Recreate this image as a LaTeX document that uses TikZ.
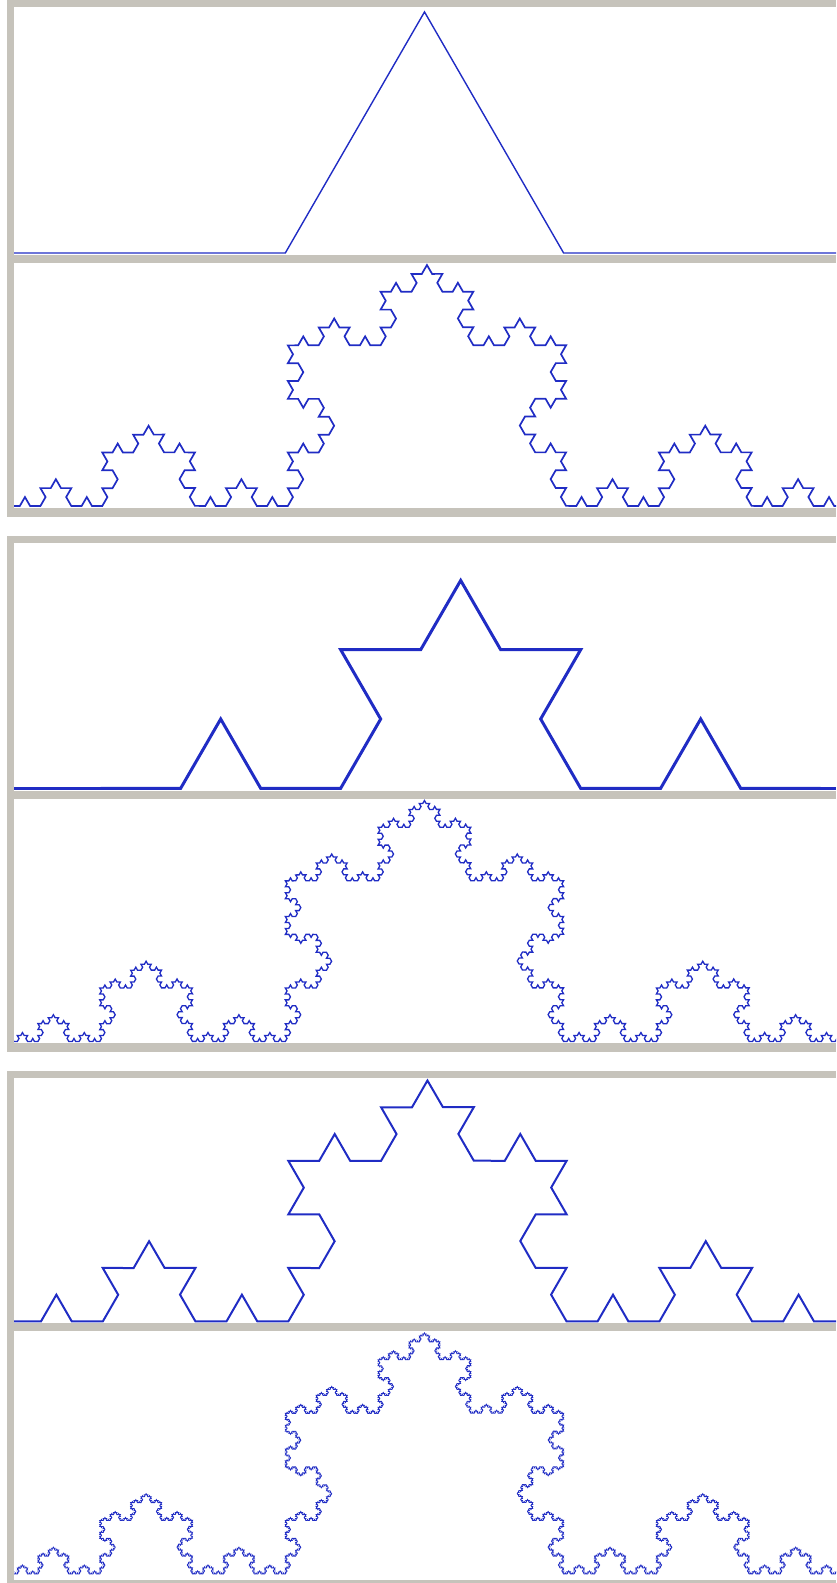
\documentclass[tikz,border=0pt]{standalone}
\usepackage{xcolor}
\usepackage{tikz}
\usetikzlibrary{decorations.fractals}

\definecolor{kochblue}{RGB}{32,44,196}
\definecolor{framegray}{RGB}{198,195,187}

\begin{document}
\begin{tikzpicture}[x=1pt,y=1pt,
    koch/.style={draw=kochblue,decoration={Koch snowflake}},
    frame/.style={fill=framegray}]
  \useasboundingbox (0,0) rectangle (836,1583);
  \begin{scope}
    \clip (14,0) rectangle (836,1583);
    % order 1
    \draw[koch,line width=1.4pt] decorate{(7,1330) -- ++(835,0)};
    % order 4
    \draw[koch,line width=1.7pt] decorate{decorate{decorate{decorate{(9.5,1077) -- ++(835,0)}}}};
    % order 2, drawn larger
    \draw[koch,line width=3pt] (14,794.7) -- (104,794.7);
    \draw[koch,line width=3pt] decorate{decorate{(100.7,794.7) -- ++(720,0)}};
    \draw[koch,line width=3pt] (816,794.7) -- (836,794.7);
    % order 5
    \draw[koch,line width=1.3pt] decorate{decorate{decorate{decorate{decorate{(7,541.5) -- ++(835,0)}}}}};
    % order 3
    \draw[koch,line width=2pt] decorate{decorate{decorate{(10,261.5) -- ++(835,0)}}};
    % order 6
    \draw[koch,line width=0.9pt] decorate{decorate{decorate{decorate{decorate{decorate{(7,9) -- ++(835,0)}}}}}};
  \end{scope}
  % frames
  \foreach \ytop/\ymid/\ybot in {1583/1328/1075, 1047/792/540, 512/260/3} {
    \fill[frame] (7,\ybot-9) rectangle (14,\ytop);
    \fill[frame] (7,\ytop-7) rectangle (836,\ytop);
    \fill[frame] (7,\ymid-8.5) rectangle (836,\ymid);
    \fill[frame] (7,\ybot-9) rectangle (836,\ybot);
  }
\end{tikzpicture}
\end{document}
